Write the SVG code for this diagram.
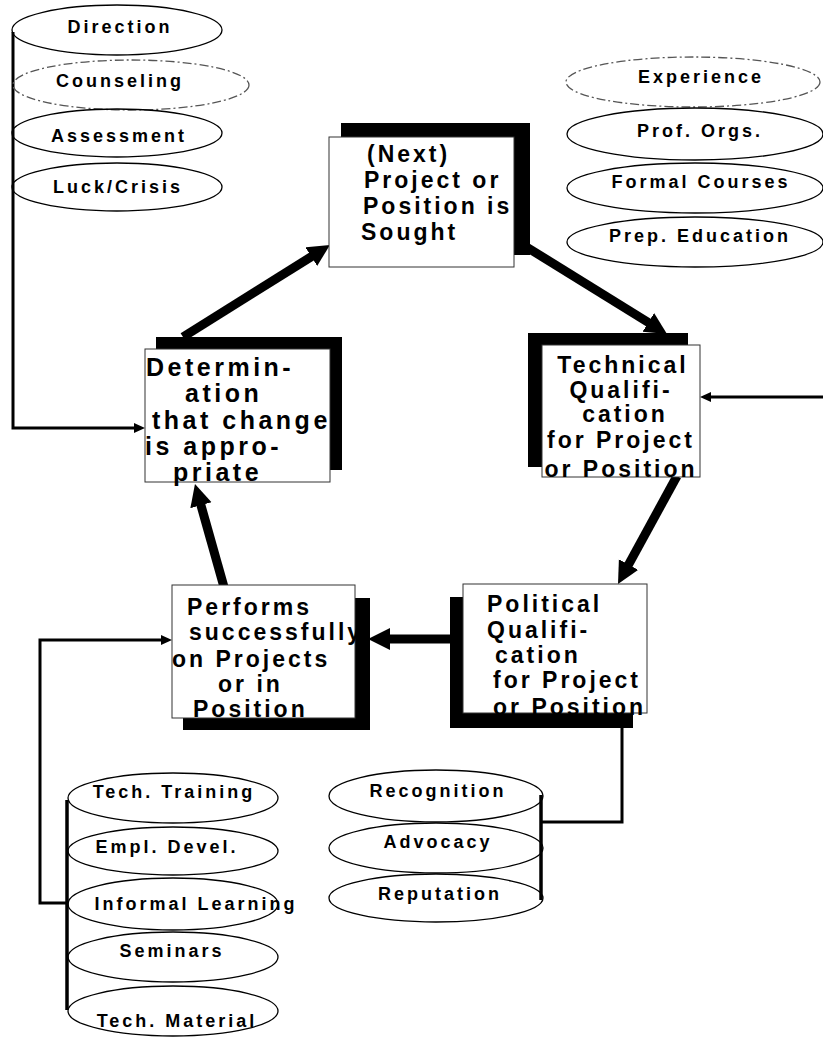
<svg xmlns="http://www.w3.org/2000/svg" width="823" height="1037" viewBox="0 0 823 1037">
<style>
.shadow{fill:#000}
.box{fill:#fff;stroke:#333;stroke-width:1}
.t{font-family:"Liberation Sans",Arial,sans-serif;font-weight:bold;font-size:23px;letter-spacing:3px;fill:#000}
.big{font-size:25px;letter-spacing:3.5px}
.e{font-family:"Liberation Sans",Arial,sans-serif;font-weight:bold;font-size:18px;letter-spacing:3px;fill:#000;text-anchor:middle}
.ell{fill:none;stroke:#000;stroke-width:1.3}
.faint{stroke:#555;stroke-dasharray:9 3 2 3}
.thick{stroke:#000;stroke-width:9;fill:none}
.thin{stroke:#000;stroke-width:3;fill:none}
.bar{stroke:#000;stroke-width:3.5;fill:none}
.m{text-anchor:middle}
</style>
<defs>
<marker id="ah" markerUnits="userSpaceOnUse" markerWidth="24" markerHeight="24" refX="2" refY="11" orient="auto"><path d="M0,0 L22,11 L0,22 z" fill="#000"/></marker>
<marker id="as" markerUnits="userSpaceOnUse" markerWidth="12" markerHeight="10" refX="1" refY="5" orient="auto"><path d="M0,0 L11,5 L0,10 z" fill="#000"/></marker>
</defs>
<rect width="823" height="1037" fill="#fff"/>

<g id="connectors">
<line class="thick" x1="183" y1="337" x2="313" y2="255.6" marker-end="url(#ah)"/>
<line class="thick" x1="520" y1="243" x2="650" y2="323.5" marker-end="url(#ah)"/>
<line class="thick" x1="677" y1="476" x2="627.6" y2="566.4" marker-end="url(#ah)"/>
<line class="thick" x1="452" y1="639" x2="388" y2="639" marker-end="url(#ah)"/>
<line class="thick" x1="224" y1="587" x2="200.4" y2="503.3" marker-end="url(#ah)"/>
<path class="thin" d="M13,32 V428 H135" marker-end="url(#as)"/>
<path class="thin" d="M823,397 H710" marker-end="url(#as)"/>
<path class="thin" d="M67,903 H40 V640 H162" marker-end="url(#as)"/>
<path class="thin" d="M622,728 V822 H540"/>
</g>

<g id="stack-direction">
<ellipse class="ell" cx="117" cy="30" rx="105" ry="25"/>
<ellipse class="ell faint" cx="131" cy="85" rx="118" ry="25"/>
<ellipse class="ell" cx="117" cy="133" rx="105" ry="24"/>
<ellipse class="ell" cx="117" cy="187" rx="105" ry="24"/>
<text class="e" x="120" y="33">Direction</text>
<text class="e" x="120" y="87">Counseling</text>
<text class="e" x="119" y="142">Assessment</text>
<text class="e" x="118" y="193">Luck/Crisis</text>
</g>

<g id="stack-experience">
<ellipse class="ell faint" cx="693" cy="82" rx="127" ry="25"/>
<ellipse class="ell" cx="695" cy="134" rx="128" ry="26"/>
<ellipse class="ell" cx="695" cy="188" rx="128" ry="25"/>
<ellipse class="ell" cx="695" cy="242" rx="128" ry="25"/>
<text class="e" x="701" y="83">Experience</text>
<text class="e" x="700" y="137">Prof. Orgs.</text>
<text class="e" x="701" y="188">Formal Courses</text>
<text class="e" x="700" y="242">Prep. Education</text>
</g>

<g id="node-next">
<rect class="shadow" x="341" y="123" width="189" height="132"/>
<rect class="box" x="329" y="137" width="185" height="130"/>
<text class="t" x="367" y="162">(Next)</text>
<text class="t" x="364" y="188">Project or</text>
<text class="t" x="363" y="214">Position is</text>
<text class="t" x="361" y="240">Sought</text>
</g>

<g id="node-determination">
<rect class="shadow" x="156" y="337" width="186" height="133"/>
<rect class="box" x="145" y="349" width="185" height="133"/>
<text class="t big" x="146" y="376">Determin-</text>
<text class="t big" x="185" y="402">ation</text>
<text class="t big" x="152" y="429">that change</text>
<text class="t big" x="145" y="455">is appro-</text>
<text class="t big" x="173" y="481">priate</text>
</g>

<g id="node-technical">
<rect class="shadow" x="528" y="333" width="160" height="134"/>
<rect class="box" x="542" y="345" width="158" height="132"/>
<text class="t m" x="623" y="373">Technical</text>
<text class="t m" x="621" y="398">Qualifi-</text>
<text class="t m" x="625" y="422">cation</text>
<text class="t m" x="621" y="448">for Project</text>
<text class="t m" x="621" y="477">or Position</text>
</g>

<g id="node-political">
<rect class="shadow" x="450" y="597" width="183" height="131"/>
<rect class="box" x="463" y="584" width="184" height="129"/>
<text class="t" x="487" y="612">Political</text>
<text class="t" x="487" y="638">Qualifi-</text>
<text class="t" x="495" y="663">cation</text>
<text class="t" x="493" y="688">for Project</text>
<text class="t" x="493" y="715">or Position</text>
</g>

<g id="node-performs">
<rect class="shadow" x="183" y="598" width="187" height="132"/>
<rect class="box" x="172" y="585" width="183" height="133"/>
<text class="t" x="187" y="615">Performs</text>
<text class="t" x="189" y="640">successfully</text>
<text class="t" x="172" y="667">on Projects</text>
<text class="t" x="218" y="692">or in</text>
<text class="t" x="193" y="717">Position</text>
</g>

<g id="stack-recognition">
<ellipse class="ell" cx="436" cy="796" rx="107" ry="26"/>
<ellipse class="ell" cx="436" cy="848" rx="107" ry="25"/>
<ellipse class="ell" cx="436" cy="898" rx="107" ry="24"/>
<line class="bar" x1="541" y1="795" x2="541" y2="900"/>
<text class="e" x="438" y="797">Recognition</text>
<text class="e" x="438" y="848">Advocacy</text>
<text class="e" x="440" y="900">Reputation</text>
</g>

<g id="stack-training">
<ellipse class="ell" cx="173" cy="798" rx="105" ry="25"/>
<ellipse class="ell" cx="173" cy="851" rx="105" ry="24"/>
<ellipse class="ell" cx="173" cy="904" rx="105" ry="26"/>
<ellipse class="ell" cx="173" cy="957" rx="105" ry="25"/>
<ellipse class="ell" cx="173" cy="1011" rx="105" ry="25"/>
<line class="bar" x1="67" y1="800" x2="67" y2="1010"/>
<text class="e" x="174" y="798">Tech. Training</text>
<text class="e" x="167" y="853">Empl. Devel.</text>
<text class="e" x="196" y="910">Informal Learning</text>
<text class="e" x="172" y="957">Seminars</text>
<text class="e" x="177" y="1027">Tech. Material</text>
</g>
</svg>
